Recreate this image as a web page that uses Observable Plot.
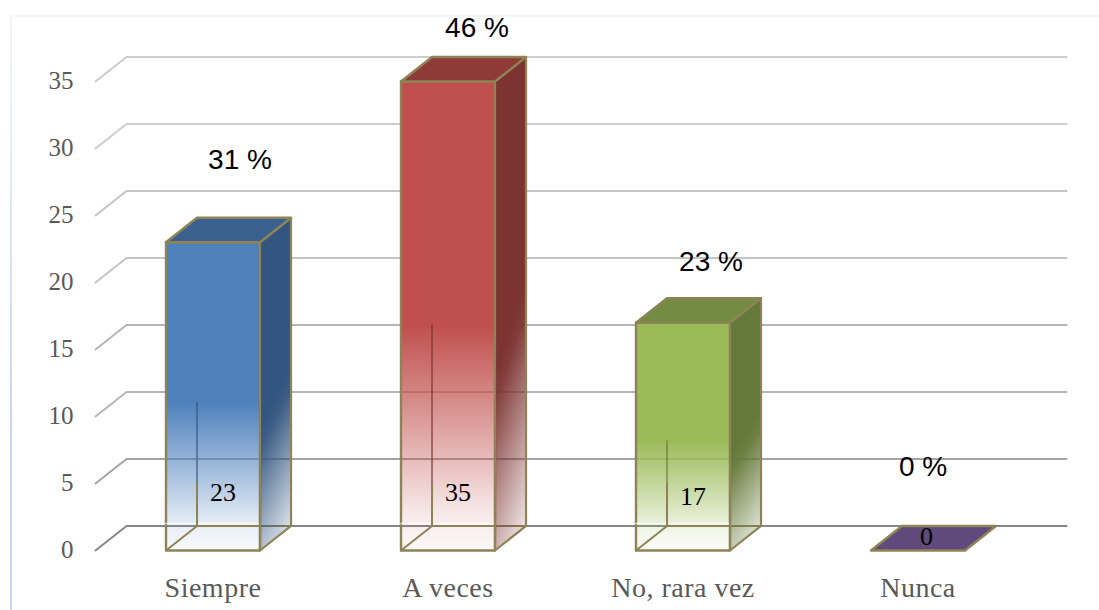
<!DOCTYPE html>
<html>
<head>
<meta charset="utf-8">
<script src="https://cdn.jsdelivr.net/npm/d3@7"></script>
<script src="https://cdn.jsdelivr.net/npm/@observablehq/plot@0.6"></script>
<style>
html,body{margin:0;padding:0;background:#fff;overflow:hidden}
#wrap{position:relative;width:1099px;height:610px}
#wrap svg{position:absolute;left:0;top:0;overflow:visible}
#wrap g[aria-label="x-axis tick label"] text{letter-spacing:0.5px}
#fl{position:absolute;left:10px;top:15px;width:2px;height:595px;background:linear-gradient(#f2f6fb,#c6d6ec 70%)}
#ft{position:absolute;left:10px;top:15px;width:1089px;height:2px;background:#f3f6fb}
</style>
</head>
<body>
<div id="wrap"><div id="fl"></div><div id="ft"></div></div>
<script>
const categories = ["Siempre", "A veces", "No, rara vez", "Nunca"];
const counts = [23, 35, 17, 0];
const percents = [31, 46, 23, 0];
const yTicks = [0, 5, 10, 15, 20, 25, 30, 35];
const frontColors = ["#4f81bd", "#c0504d", "#9bbb59", "#604a7b"];
const sideColors = ["#335680", "#7c3331", "#657a3a", "#604a7b"];
const topColors = ["#3a608f", "#8f3a37", "#748c42", "#604a7b"];
const gridColors = ["#868686", "#a3a3a3", "#b5b5b5", "#b5b5b5", "#c4c4c4", "#c4c4c4", "#cccccc", "#cccccc"];

// layout of the pseudo-3D box, in scale units
const halfW = 0.2, depthX = 0.132, depthY = 1.83;
const edge = "#8d8357";
const pctOffset = [[27, -82], [29, -53], [28, -61], [5, -83]];
const cntOffset = [10, 10, 10, 8.5];
const cntY = [4.3, 4.3, 4.0, 1];
const serif = "'Liberation Serif', serif";

const poly = pts => pts.map(([x, y]) => ({x, y}));
const xy = {x: "x", y: "y"};
const closed = "linear-closed";

const defs = () => {
  const ns = "http://www.w3.org/2000/svg";
  const d = document.createElementNS(ns, "defs");
  const grad = (id, c, a, stops) => {
    const g = document.createElementNS(ns, "linearGradient");
    g.setAttribute("id", id);
    Object.entries(a).forEach(([k, v]) => g.setAttribute(k, v));
    stops.forEach(([o, op]) => {
      const s = document.createElementNS(ns, "stop");
      s.setAttribute("offset", o); s.setAttribute("stop-color", c); s.setAttribute("stop-opacity", op);
      g.appendChild(s);
    });
    d.appendChild(g);
  };
  categories.forEach((_, i) => {
    grad("front" + i, frontColors[i], {x1: 0, y1: 0, x2: 0, y2: 1},
      [[0, 1], [0.52, 1], [0.7, 0.62], [0.92, 0.13], [1, 0.04]]);
    grad("side" + i, sideColors[i], {x1: 0, y1: 0.63, x2: 0.096, y2: 1.163},
      [[0, 1], [0.12, 0.95], [1, 0.03]]);
  });
  return d;
};

const barMarks = categories.flatMap((_, i) => {
  const v = counts[i], L = i - halfW, R = i + halfW;
  const top = Plot.line(poly([[L, v], [R, v], [R + depthX, v + depthY], [L + depthX, v + depthY]]),
    {...xy, curve: closed, fill: v > 0 ? topColors[i] : frontColors[i], stroke: edge, strokeWidth: 2.4, strokeLinejoin: "round"});
  if (v === 0) return [top];
  const side = Plot.line(poly([[R, 0], [R + depthX, depthY], [R + depthX, v + depthY], [R, v]]),
    {...xy, curve: closed, fill: `url(#side${i})`, stroke: edge, strokeWidth: 2.2});
  const front = Plot.line(poly([[L, 0], [R, 0], [R, v], [L, v]]),
    {...xy, curve: closed, fill: `url(#front${i})`, stroke: edge, strokeWidth: 2.4});
  const floor = Plot.line(poly([[L, 0], [L + depthX, depthY], [R + depthX, depthY]]),
    {...xy, stroke: edge, strokeWidth: 2});
  const floorGlow = Plot.line(poly([[L, depthY], [R + depthX, depthY]]),
    {...xy, stroke: "#fff", strokeWidth: 1.5, dy: -2.5, strokeOpacity: 0.75});
  const inner = Plot.line(poly([[L + depthX, depthY], [L + depthX, v * 0.48]]),
    {...xy, stroke: sideColors[i], strokeWidth: 2, strokeOpacity: 0.6});
  const innerLow = Plot.line(poly([[L + depthX, depthY], [L + depthX, 5]]),
    {...xy, stroke: edge, strokeWidth: 2});
  return [front, floorGlow, inner, innerLow, floor, side, top];
});

const labelMarks = categories.flatMap((_, i) => [
  Plot.text([`${percents[i]} %`], {
    x: [i], y: [counts[i]], text: d => d, dx: pctOffset[i][0], dy: pctOffset[i][1],
    fontFamily: "'Liberation Sans', Arial, sans-serif", fontSize: 28, fill: "#000"
  }),
  Plot.text([String(counts[i])], {
    x: [i], y: [cntY[i]], text: d => d, dx: cntOffset[i],
    fontFamily: serif, fontSize: 26, fill: "#000"
  })
]);

const chart = Plot.plot({
  width: 1099, height: 610,
  marginLeft: 95, marginRight: 64, marginTop: 81, marginBottom: 60,
  style: {background: "transparent", overflow: "visible"},
  x: {domain: [-0.5, 3.5], axis: null},
  y: {domain: [0, 35], axis: null},
  marks: [
    defs,
    ...yTicks.map((t, k) =>
      Plot.line(poly([[-0.5, t], [-0.5 + depthX, t + depthY], [3.5 + depthX, t + depthY]]),
        {...xy, stroke: gridColors[k], strokeWidth: 2})
    ),
    ...barMarks,
    ...labelMarks,
    Plot.axisY(yTicks, {
      anchor: "left", tickSize: 0, tickPadding: 22, label: null,
      fontFamily: serif, fontSize: 25, fill: "#595959", dy: -1
    }),
    Plot.axisX([0, 1, 2, 3], {
      anchor: "bottom", tickSize: 0, tickPadding: 27, label: null,
      tickFormat: i => categories[i],
      fontFamily: serif, fontSize: 28, fill: "#595959"
    })
  ]
});
document.getElementById("wrap").appendChild(chart);
</script>
</body>
</html>
